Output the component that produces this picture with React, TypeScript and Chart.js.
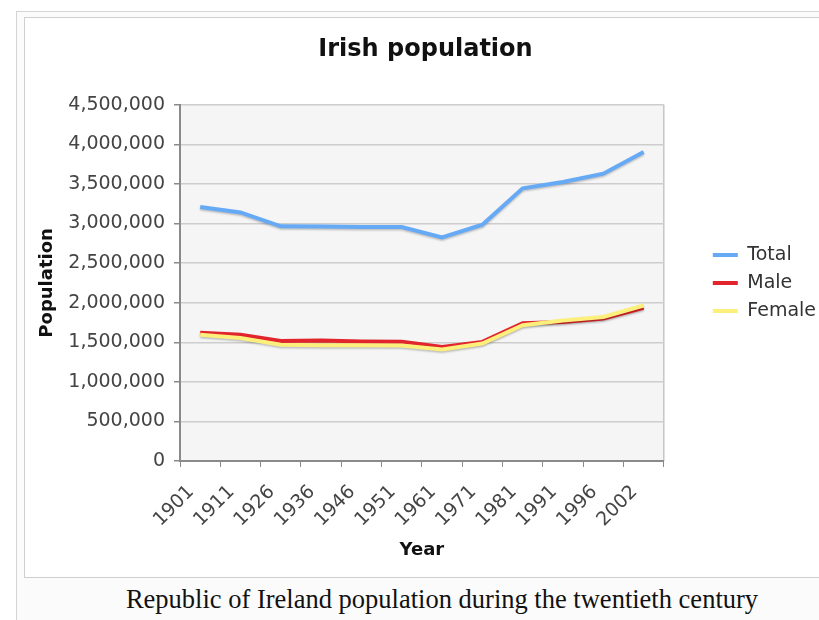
import React, { useEffect, useRef } from 'react';
import { Chart, registerables } from 'chart.js';

Chart.register(...registerables);

const years = ['1901', '1911', '1926', '1936', '1946', '1951', '1961', '1971', '1981', '1991', '1996', '2002'];
const total = [3210000, 3140000, 2965000, 2962000, 2955000, 2955000, 2825000, 2985000, 3445000, 3525000, 3630000, 3905000];
const male = [1620000, 1595000, 1515000, 1522000, 1510000, 1508000, 1440000, 1505000, 1740000, 1755000, 1800000, 1935000];
const female = [1595000, 1555000, 1470000, 1462000, 1462000, 1458000, 1408000, 1485000, 1715000, 1775000, 1820000, 1965000];
const seriesNames = ['Total', 'Male', 'Female'];
const seriesColors = ['#66aaf6', '#e2252c', '#fcef7c'];
const yMin = 0;
const yMax = 4500000;
const yStep = 500000;

const plotBg = {
  id: 'plotBg',
  beforeDraw(chart: any) {
    const { ctx, chartArea } = chart;
    const { left, top, right, bottom } = chartArea;
    ctx.save();
    ctx.fillStyle = '#f5f5f5';
    ctx.fillRect(left, top, right - left, bottom - top);
    ctx.strokeStyle = '#c6c6c6';
    ctx.lineWidth = 1.5;
    ctx.beginPath();
    ctx.moveTo(right, top);
    ctx.lineTo(right, bottom);
    ctx.stroke();
    ctx.restore();
  },
  beforeDatasetDraw(chart: any) {
    const ctx = chart.ctx;
    ctx.save();
    ctx.shadowColor = 'rgba(0,0,0,0.22)';
    ctx.shadowBlur = 2;
    ctx.shadowOffsetY = 1.5;
  },
  afterDatasetDraw(chart: any) {
    chart.ctx.restore();
  },
};

export default function App() {
  const ref = useRef<HTMLCanvasElement>(null);

  useEffect(() => {
    if (!ref.current) return;
    Chart.defaults.font.family = 'DejaVu Sans';
    const values = [total, male, female];
    const orders = [1, 2, 0];
    const chart = new Chart(ref.current, {
      type: 'line',
      data: {
        labels: years,
        datasets: seriesNames.map((name, i) => ({
          label: name,
          data: values[i],
          borderColor: seriesColors[i],
          backgroundColor: seriesColors[i],
          borderWidth: 4,
          pointRadius: 0,
          tension: 0,
          order: orders[i],
          yAxisID: 'y',
        })),
      },
      options: {
        animation: false,
        responsive: false,
        layout: { padding: 0 },
        plugins: {
          title: {
            display: true,
            text: 'Irish population',
            color: '#111',
            font: { size: 24, weight: 'bold' },
            padding: { top: 17, bottom: 41 },
          },
          legend: {
            position: 'right',
            fullSize: false,
            labels: {
              color: '#333',
              font: { size: 19 },
              boxWidth: 25,
              boxHeight: 4,
              padding: 9,
              sort: (a: any, b: any) => a.datasetIndex - b.datasetIndex,
              generateLabels: (ch: any) => {
                const items = Chart.defaults.plugins.legend.labels.generateLabels(ch);
                return items.map((it: any) => ({ ...it, lineWidth: 0 }));
              },
            },
          },
          tooltip: { enabled: false },
        },
        scales: {
          x: {
            type: 'category',
            offset: true,
            grid: { drawOnChartArea: false, drawTicks: true, tickLength: 6, tickColor: '#8a8a8a', offset: true },
            border: { display: true, color: '#8a8a8a', width: 2 },
            ticks: {
              color: '#444',
              font: { size: 19 },
              minRotation: 45,
              maxRotation: 45,
              autoSkip: false,
              padding: 14,
              labelOffset: -9,
            },
            title: {
              display: true,
              text: 'Year',
              color: '#111',
              font: { size: 18, weight: 'bold' },
              padding: { top: 0, bottom: 15 },
            },
            afterFit: (s: any) => {
              s.height = 115;
            },
          },
          y: {
            type: 'linear',
            position: 'left',
            min: yMin,
            max: yMax,
            grid: { color: '#cdcdcd', lineWidth: 1.5, tickLength: 6, tickColor: '#8a8a8a' },
            border: { display: true, color: '#8a8a8a', width: 2 },
            ticks: {
              stepSize: yStep,
              color: '#444',
              font: { size: 19 },
              padding: 9,
              callback: (v: any) => Number(v).toLocaleString('en-US'),
            },
            title: {
              display: true,
              text: 'Population',
              color: '#111',
              font: { size: 18, weight: 'bold' },
              padding: { top: 12, bottom: 0 },
            },
            afterFit: (s: any) => {
              s.width = 155;
            },
          },
          y2: {
            type: 'linear',
            position: 'right',
            display: true,
            grid: { display: false, drawTicks: false },
            border: { display: false },
            ticks: { display: false },
            afterFit: (s: any) => {
              s.width = 40;
            },
          },
        },
      },
      plugins: [plotBg],
    });
    return () => chart.destroy();
  }, []);

  return (
    <div style={{ position: 'absolute', left: 0, top: 0, width: 819, height: 620, overflow: 'hidden', background: '#fff' }}>
      <div
        style={{
          position: 'absolute',
          left: 16,
          top: 11,
          width: 900,
          height: 700,
          border: '1px solid #d4d4d4',
          background: '#fbfbfb',
        }}
      />
      <div
        style={{
          position: 'absolute',
          left: 24,
          top: 17,
          width: 900,
          height: 559,
          border: '1px solid #cfcfcf',
          background: '#fff',
        }}
      />
      <canvas
        ref={ref}
        width={801}
        height={558}
        style={{ position: 'absolute', left: 25, top: 18, width: 801, height: 558 }}
      />
      <div
        style={{
          position: 'absolute',
          left: 0,
          top: 583,
          width: 884,
          textAlign: 'center',
          fontFamily: '"Liberation Serif", "Times New Roman", serif',
          fontSize: 26.5,
          color: '#111',
          lineHeight: '32px',
        }}
      >
        Republic of Ireland population during the twentieth century
      </div>
    </div>
  );
}
